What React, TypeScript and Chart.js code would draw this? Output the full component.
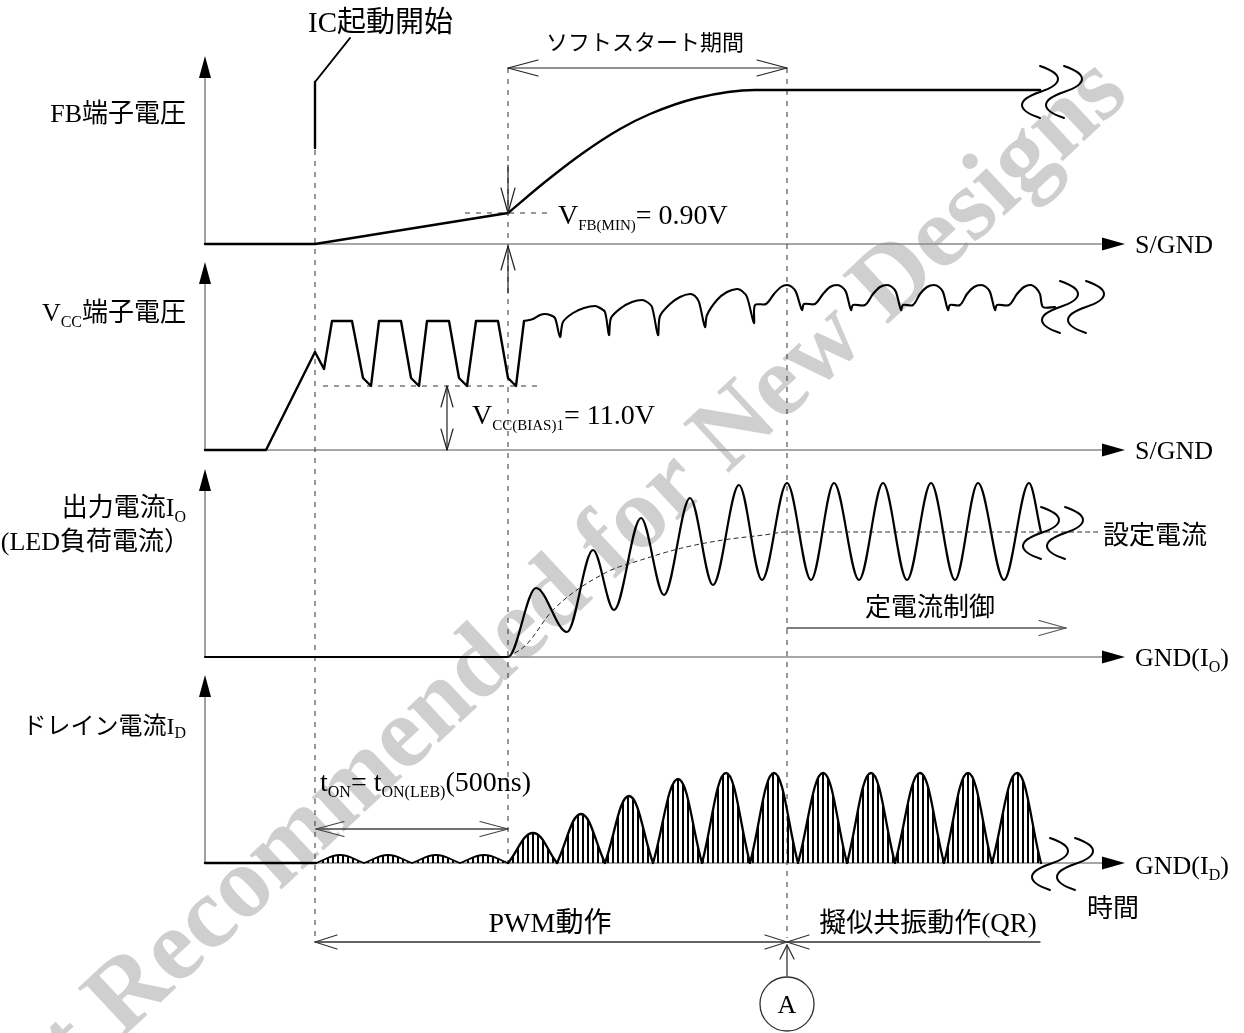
import React, { useEffect, useRef } from "react";
import { Chart, registerables } from "chart.js";

Chart.register(...registerables);

const PAGE_W = 1244;
const PAGE_H = 1033;

// ---------- time markers (diagram time units) ----------
const tAxisStart = 205;
const tAxisEnd = 1125;
const tIcStart = 315;
const tSoftStart = 508;
const tPointA = 787;
const tQrEnd = 1040;
const tCcEnd = 1066;

// ---------- FB pin voltage (level units) ----------
const fbRampTime = [205, 315, 508];
const fbRampLevel = [0, 0, 31];
const fbSoftTime = [508, 545, 583, 620, 650, 697, 755, 1040];
const fbSoftLevel = [31, 62, 91, 115, 130, 146, 154, 154];
const vfbMinLevel = 31;

// ---------- VCC pin voltage ----------
const vccStartTime = [205, 266, 315, 324, 332, 352, 363, 371, 379, 401, 411, 419, 427, 449, 459, 467, 476, 498, 508, 516, 524];
const vccStartLevel = [0, 0, 98, 81, 129, 129, 72, 64, 129, 129, 72, 64, 129, 129, 72, 64, 129, 129, 72, 64, 129];
const vccRunTime = [
  524, 533, 540, 545, 550, 555, 560, 563,
  573, 584, 595, 600, 605, 609, 611,
  621, 632, 642, 647, 652, 658, 660,
  670, 680, 690, 695, 699, 705, 707,
  717, 727, 737, 742, 747, 754, 755, 766,
  774, 781, 787, 792, 796, 802, 804, 815,
  823, 830, 837, 842, 846, 851, 853, 865,
  873, 880, 887, 892, 896, 901, 903, 913,
  920, 927, 934, 939, 943, 948, 950, 960,
  967, 974, 981, 986, 990, 995, 997, 1009,
  1017, 1024, 1031, 1036, 1040, 1043, 1055,
];
const vccRunLevel = [
  129, 131, 135, 136, 135, 132, 113, 128,
  137, 142, 144, 142, 138, 115, 132,
  142, 148, 150, 148, 143, 115, 134,
  146, 153, 156, 154, 148, 123, 135,
  150, 158, 161, 159, 153, 127, 145, 146,
  156, 163, 165, 163, 158, 140, 146, 146,
  156, 163, 165, 163, 158, 140, 145, 145,
  156, 163, 165, 163, 158, 140, 145, 145,
  156, 163, 165, 163, 158, 140, 145, 145,
  156, 163, 165, 163, 158, 140, 145, 145,
  156, 163, 165, 162, 156, 143, 143,
];
const vccBiasLevel = 64;

// ---------- Output current IO ----------
const ioTime = [205, 508, 536, 567, 593, 614, 641, 664, 690, 713, 739, 762, 787, 811, 834, 859, 883, 907, 931, 955, 978, 1004, 1029, 1041];
const ioLevel = [0, 0, 69, 25, 107, 47, 139, 62, 159, 72, 172, 77, 174, 77, 174, 77, 174, 77, 174, 77, 174, 77, 174, 125];
const ioSetTime = [508, 526, 553, 605, 641, 682, 723, 764, 787, 1100];
const ioSetLevel = [0, 12, 47, 84, 97, 109, 117, 122, 125, 125];

// ---------- Drain current ID ----------
const idFlatTime = [205, 316];
const idFlatLevel = [0, 0];
const idLeadEdges = [316, 364, 412, 460, 508];
const idLeadPeakTime = [340, 388, 436, 484];
const idLeadPeakLevel = [8, 8, 8, 8];
const idEdges = [508, 557, 605, 653, 702, 750, 798, 847, 895, 944, 992, 1041];
const idPeakTime = [533, 581, 629, 678, 726, 774, 823, 871, 920, 968, 1017];
const idPeakLevel = [30, 49, 67, 84, 90, 90, 90, 90, 90, 90, 90];

// ---------- layout (page px) ----------
const panelBase: Record<string, number> = { yFB: 244, yVCC: 450, yIO: 657, yID: 863 };
const axisHeight = 188;
const SERIF = '"Liberation Serif", "Noto Sans CJK JP", serif';

type Run = [string, boolean?];

const pts = (t: number[], v: number[]) => t.map((x, i) => ({ x, y: v[i] }));
const humps = (edges: number[], peakT: number[], peakV: number[]) => {
  const out: { x: number; y: number }[] = [];
  for (let i = 0; i < peakT.length; i++) {
    out.push({ x: edges[i], y: 0 }, { x: peakT[i], y: peakV[i] }, { x: edges[i + 1], y: 0 });
  }
  return out;
};

function makeHatch() {
  const c = document.createElement("canvas");
  c.width = 5;
  c.height = 8;
  const g = c.getContext("2d")!;
  g.fillStyle = "#000";
  g.fillRect(2, 0, 2, 8);
  return g.createPattern(c, "repeat")!;
}

function chevron(ctx: CanvasRenderingContext2D, x: number, y: number, ang: number, len: number, half: number) {
  const bx = x - Math.cos(ang) * len, by = y - Math.sin(ang) * len;
  const px = -Math.sin(ang) * half, py = Math.cos(ang) * half;
  ctx.beginPath();
  ctx.moveTo(bx + px, by + py);
  ctx.lineTo(x, y);
  ctx.lineTo(bx - px, by - py);
  ctx.stroke();
}

function filledHead(ctx: CanvasRenderingContext2D, x: number, y: number, ang: number, len: number, half: number) {
  const bx = x - Math.cos(ang) * len, by = y - Math.sin(ang) * len;
  const px = -Math.sin(ang) * half, py = Math.cos(ang) * half;
  ctx.beginPath();
  ctx.moveTo(bx + px, by + py);
  ctx.lineTo(x, y);
  ctx.lineTo(bx - px, by - py);
  ctx.closePath();
  ctx.fill();
}

function seg(ctx: CanvasRenderingContext2D, x1: number, y1: number, x2: number, y2: number) {
  ctx.beginPath();
  ctx.moveTo(x1, y1);
  ctx.lineTo(x2, y2);
  ctx.stroke();
}

function dashed(ctx: CanvasRenderingContext2D, x1: number, y1: number, x2: number, y2: number) {
  ctx.save();
  ctx.setLineDash([5, 6]);
  ctx.strokeStyle = "#333";
  ctx.lineWidth = 1;
  seg(ctx, x1, y1, x2, y2);
  ctx.restore();
}

function breakS(ctx: CanvasRenderingContext2D, cx: number, cy: number) {
  ctx.beginPath();
  ctx.moveTo(cx, cy - 26);
  ctx.bezierCurveTo(cx + 24, cy - 18, cx + 24, cy - 8, cx, cy);
  ctx.bezierCurveTo(cx - 24, cy + 8, cx - 24, cy + 18, cx, cy + 26);
  ctx.stroke();
}

function rich(ctx: CanvasRenderingContext2D, runs: Run[], x: number, cy: number, align: "left" | "right" | "center", size: number, sub = 16) {
  const widths = runs.map(([s, isSub]) => {
    ctx.font = `${isSub ? sub : size}px ${SERIF}`;
    return ctx.measureText(s).width;
  });
  const total = widths.reduce((a, b) => a + b, 0);
  let cx = align === "left" ? x : align === "right" ? x - total : x - total / 2;
  const base = cy + size * 0.36;
  ctx.textAlign = "left";
  ctx.textBaseline = "alphabetic";
  ctx.fillStyle = "#000";
  runs.forEach(([s, isSub], i) => {
    ctx.font = `${isSub ? sub : size}px ${SERIF}`;
    ctx.fillText(s, cx, isSub ? base + size * 0.2 : base);
    cx += widths[i];
  });
}

const diagramPlugin = {
  id: "diagram",
  beforeDatasetsDraw(chart: any) {
    const ctx: CanvasRenderingContext2D = chart.ctx;
    const X = (t: number) => chart.scales.x.getPixelForValue(t);
    const Y = (v: number) => chart.scales.yPage.getPixelForValue(v);
    const L = (id: string, v: number) => chart.scales[id].getPixelForValue(v);
    ctx.save();
    // watermark
    ctx.save();
    ctx.translate(X(1113), Y(78));
    ctx.rotate((-43 * Math.PI) / 180);
    ctx.font = 'bold 102px "Liberation Serif", serif';
    ctx.fillStyle = "#cfcfcf";
    ctx.textAlign = "right";
    ctx.textBaseline = "middle";
    ctx.fillText("Not Recommended for New Designs", 0, 0);
    ctx.restore();

    // axes
    for (const id of Object.keys(panelBase)) {
      const y0 = L(id, 0);
      const yTip = L(id, axisHeight);
      const x0 = X(tAxisStart);
      ctx.strokeStyle = "#8a8a8a";
      ctx.lineWidth = 1.6;
      seg(ctx, x0, y0, x0, yTip + 20);
      seg(ctx, x0, y0, X(tAxisEnd) - 20, y0);
      ctx.fillStyle = "#000";
      filledHead(ctx, x0, yTip, -Math.PI / 2, 22, 6);
      filledHead(ctx, X(tAxisEnd), y0, 0, 23, 6.5);
    }
    // dashed guides
    dashed(ctx, X(tIcStart), Y(150), X(tIcStart), Y(942));
    dashed(ctx, X(tSoftStart), Y(68), X(tSoftStart), Y(863));
    dashed(ctx, X(tPointA), Y(68), X(tPointA), Y(938));
    const yfb = L("yFB", vfbMinLevel);
    dashed(ctx, X(465), yfb, X(548), yfb);
    const yb = L("yVCC", vccBiasLevel);
    dashed(ctx, X(323), yb, X(538), yb);
    ctx.restore();
  },
  afterDatasetsDraw(chart: any) {
    const ctx: CanvasRenderingContext2D = chart.ctx;
    const X = (t: number) => chart.scales.x.getPixelForValue(t);
    const Y = (v: number) => chart.scales.yPage.getPixelForValue(v);
    const L = (id: string, v: number) => chart.scales[id].getPixelForValue(v);
    ctx.save();
    ctx.lineCap = "round";
    ctx.lineJoin = "round";

    // IC start pointer
    ctx.strokeStyle = "#000";
    ctx.lineWidth = 2.4;
    seg(ctx, X(tIcStart), Y(148), X(tIcStart), Y(82));
    ctx.lineWidth = 2;
    seg(ctx, X(tIcStart), Y(82), X(350), Y(38));

    // thin arrows
    ctx.strokeStyle = "#222";
    ctx.lineWidth = 1.2;
    const ys = Y(68);
    seg(ctx, X(tSoftStart), ys, X(tPointA), ys);
    chevron(ctx, X(tSoftStart), ys, Math.PI, 30, 8);
    chevron(ctx, X(tPointA), ys, 0, 30, 8);
    const yfb = L("yFB", vfbMinLevel);
    seg(ctx, X(tSoftStart), Y(165), X(tSoftStart), yfb);
    chevron(ctx, X(tSoftStart), yfb, Math.PI / 2, 25, 7);
    const yfb0 = L("yFB", 0) + 2;
    seg(ctx, X(tSoftStart), Y(293), X(tSoftStart), yfb0);
    chevron(ctx, X(tSoftStart), yfb0, -Math.PI / 2, 24, 7);
    const yb = L("yVCC", vccBiasLevel);
    const yv0 = L("yVCC", 0);
    seg(ctx, X(447), yb, X(447), yv0);
    chevron(ctx, X(447), yb, -Math.PI / 2, 21, 6);
    chevron(ctx, X(447), yv0, Math.PI / 2, 21, 6);
    ctx.strokeStyle = "#555";
    ctx.lineWidth = 1.5;
    seg(ctx, X(tPointA), Y(628), X(tCcEnd), Y(628));
    ctx.lineWidth = 1.2;
    chevron(ctx, X(tCcEnd), Y(628), 0, 27, 7.5);
    ctx.strokeStyle = "#444";
    ctx.lineWidth = 1.5;
    seg(ctx, X(316), Y(829), X(tSoftStart), Y(829));
    ctx.lineWidth = 1.2;
    chevron(ctx, X(316), Y(829), Math.PI, 28, 7.5);
    chevron(ctx, X(tSoftStart), Y(829), 0, 28, 7.5);
    ctx.strokeStyle = "#333";
    ctx.lineWidth = 1.3;
    const yp = Y(942);
    seg(ctx, X(tIcStart), yp, X(tQrEnd), yp);
    chevron(ctx, X(tIcStart), yp, Math.PI, 22, 7);
    chevron(ctx, X(tPointA), yp, 0, 22, 7);
    chevron(ctx, X(tPointA), yp, Math.PI, 22, 7);
    seg(ctx, X(tPointA), Y(976), X(tPointA), Y(945));
    chevron(ctx, X(tPointA), Y(945), -Math.PI / 2, 14, 7);
    ctx.beginPath();
    ctx.arc(X(tPointA), Y(1004), 27, 0, Math.PI * 2);
    ctx.stroke();

    // break symbols
    ctx.strokeStyle = "#000";
    ctx.lineWidth = 2;
    const breaks: [number, number][] = [
      [1040, 92], [1064, 92],
      [1060, 307], [1086, 307],
      [1041, 533], [1065, 533],
      [1050, 864], [1075, 864],
    ];
    breaks.forEach(([bx, by]) => breakS(ctx, X(bx), Y(by)));

    // texts
    const T = 26;
    rich(ctx, [["IC起動開始"]], X(308), Y(22), "left", 29);
    rich(ctx, [["ソフトスタート期間"]], X(645), Y(42), "center", 22);
    rich(ctx, [["FB端子電圧"]], X(186), Y(113), "right", T);
    rich(ctx, [["V"], ["CC", true], ["端子電圧"]], X(186), Y(312), "right", T);
    rich(ctx, [["出力電流I"], ["O", true]], X(186), Y(507), "right", T);
    rich(ctx, [["(LED負荷電流）"]], X(190), Y(541), "right", T);
    rich(ctx, [["ドレイン電流I"], ["D", true]], X(186), Y(725), "right", 24);
    rich(ctx, [["S/GND"]], X(1135), Y(244), "left", T);
    rich(ctx, [["S/GND"]], X(1135), Y(450), "left", T);
    rich(ctx, [["GND(I"], ["O", true], [")"]], X(1135), Y(657), "left", T);
    rich(ctx, [["GND(I"], ["D", true], [")"]], X(1135), Y(865), "left", T);
    rich(ctx, [["V"], ["FB(MIN)", true], ["= 0.90V"]], X(558), Y(214), "left", 28, 15);
    rich(ctx, [["V"], ["CC(BIAS)1", true], ["= 11.0V"]], X(472), Y(414), "left", 28, 15);
    rich(ctx, [["設定電流"]], X(1103), Y(535), "left", T);
    rich(ctx, [["定電流制御"]], X(930), Y(607), "center", T);
    rich(ctx, [["t"], ["ON", true], ["= t"], ["ON(LEB)", true], ["(500ns)"]], X(320), Y(781), "left", 28, 16);
    rich(ctx, [["PWM動作"]], X(550), Y(922), "center", 28);
    rich(ctx, [["擬似共振動作(QR)"]], X(928), Y(922), "center", 27);
    rich(ctx, [["時間"]], X(1113), Y(908), "center", T);
    rich(ctx, [["A"]], X(tPointA), Y(1004), "center", T);
    ctx.restore();
  },
};

export default function App() {
  const ref = useRef<HTMLCanvasElement>(null);
  useEffect(() => {
    const canvas = ref.current!;
    const hatch = makeHatch();
    const line = (axis: string, data: any[], extra: any = {}) => ({
      type: "line" as const,
      data,
      xAxisID: "x",
      yAxisID: axis,
      borderColor: "#000",
      borderWidth: 2.4,
      pointRadius: 0,
      pointHoverRadius: 0,
      fill: false,
      tension: 0,
      borderCapStyle: "round",
      borderJoinStyle: "round",
      ...extra,
    });
    const yScales: any = {};
    Object.keys(panelBase).forEach((id) => {
      yScales[id] = { type: "linear", display: false, min: panelBase[id] - PAGE_H, max: panelBase[id] };
    });
    const chart = new Chart(canvas, {
      type: "line",
      data: {
        datasets: [
          line("yFB", pts(fbRampTime, fbRampLevel)),
          line("yFB", pts(fbSoftTime, fbSoftLevel), { cubicInterpolationMode: "monotone" }),
          line("yVCC", pts(vccStartTime, vccStartLevel)),
          line("yVCC", pts(vccRunTime, vccRunLevel), { tension: 0.3, borderWidth: 2.1 }),
          line("yIO", pts(ioSetTime, ioSetLevel), { cubicInterpolationMode: "monotone", borderWidth: 1, borderDash: [4, 4], borderColor: "#222" }),
          line("yIO", pts(ioTime, ioLevel), { cubicInterpolationMode: "monotone", borderWidth: 2.2 }),
          line("yID", pts(idFlatTime, idFlatLevel)),
          line("yID", humps(idLeadEdges, idLeadPeakTime, idLeadPeakLevel), { tension: 0.4, fill: "origin", backgroundColor: hatch, borderWidth: 1.8 }),
          line("yID", humps(idEdges, idPeakTime, idPeakLevel), { tension: 0.4, fill: "origin", backgroundColor: hatch, borderWidth: 2.3 }),
        ] as any,
      },
      options: {
        animation: false,
        responsive: false,
        devicePixelRatio: 1,
        events: [],
        layout: { padding: 0 },
        plugins: { legend: { display: false }, tooltip: { enabled: false }, title: { display: false } },
        scales: {
          x: { type: "linear", display: false, min: 0, max: PAGE_W },
          ...yScales,
          yPage: { type: "linear", display: false, min: 0, max: PAGE_H, reverse: true },
        },
      } as any,
      plugins: [diagramPlugin as any],
    });
    return () => chart.destroy();
  }, []);
  return (
    <div style={{ position: "absolute", left: 0, top: 0, width: PAGE_W, height: PAGE_H, background: "#fff" }}>
      <canvas ref={ref} width={PAGE_W} height={PAGE_H} style={{ display: "block", width: PAGE_W, height: PAGE_H }} />
    </div>
  );
}
